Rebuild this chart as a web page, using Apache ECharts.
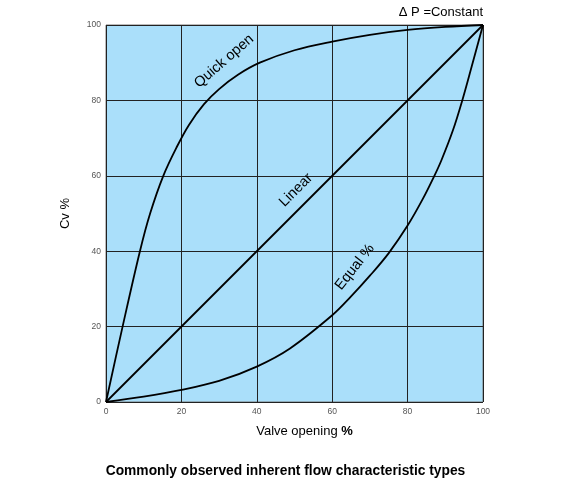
<!DOCTYPE html>
<html>
<head>
<meta charset="utf-8">
<script src="https://cdn.jsdelivr.net/npm/echarts@6/dist/echarts.min.js"></script>
<style>
  html, body { margin: 0; padding: 0; background: #fff; }
  #chart { width: 571px; height: 493px; }
</style>
</head>
<body>
<div id="chart"></div>
<script>
// valve opening % -> Cv %
const quickOpen = [
  [0, 0], [4.4, 20], [9, 40], [11.7, 50], [15.2, 60], [18.7, 67.5], [22, 73.5],
  [26, 79], [30, 83], [35, 86.8], [40.8, 90], [50, 93.3], [60, 95.6],
  [70, 97.4], [80, 98.7], [90, 99.5], [100, 100]
];
const linear = [[0, 0], [100, 100]];
const equalPct = [
  [0, 0], [10, 1.4], [20, 3.2], [30, 5.6], [40, 9.4], [48.8, 14.2], [60, 23],
  [65, 28], [70, 33.5], [75, 39.5], [80, 46.8], [84, 53.8], [87.1, 60], [89, 64.2],
  [92, 72], [94.5, 80], [97, 89], [100, 100]
];
const xTicks = [0, 20, 40, 60, 80, 100];
const yTicks = [0, 20, 40, 60, 80, 100];

// curve captions: [text, x, y, angle]
const captions = [
  ['Quick open', 31.3, 90.4, 41],
  ['Linear', 50.4, 56.2, 45],
  ['Equal %', 66, 35.8, 52]
];

const chart = echarts.init(document.getElementById('chart'));

const lineStyle = { color: '#000', width: 1.8 };

let option = {
  backgroundColor: '#fff',
  animation: false,
  title: {
    text: 'Commonly observed inherent flow characteristic types',
    left: 'center',
    top: 459,
    textStyle: { fontFamily: 'Arial, Liberation Sans', fontSize: 13.8, fontWeight: 'bold', color: '#000' }
  },
  grid: {
    left: 106, top: 25, right: 88, bottom: 91,
    show: true,
    backgroundColor: '#AADFFA',
    borderColor: '#777',
    borderWidth: 1
  },
  xAxis: {
    type: 'value',
    min: 0, max: 100, interval: 20,
    name: 'Valve opening {b|%}',
    nameLocation: 'middle',
    nameGap: 23,
    nameTextStyle: {
      fontFamily: 'Arial, Liberation Sans', fontSize: 13, color: '#000',
      padding: [0, 0, 0, 20],
      rich: { b: { fontFamily: 'Arial, Liberation Sans', fontSize: 13, fontWeight: 'bold', color: '#000' } }
    },
    axisLine: { show: false },
    axisTick: { show: false },
    axisLabel: {
      fontFamily: 'Arial, Liberation Sans', fontSize: 8.5, color: '#555', margin: 5,
      formatter: v => xTicks.includes(v) ? String(v) : ''
    },
    splitLine: { show: true, lineStyle: { color: '#222', width: 1 } }
  },
  yAxis: {
    type: 'value',
    min: 0, max: 100, interval: 20,
    name: 'Cv %',
    nameLocation: 'middle',
    nameGap: 34,
    nameTextStyle: { fontFamily: 'Arial, Liberation Sans', fontSize: 13, color: '#000' },
    axisLine: { show: false },
    axisTick: { show: false },
    axisLabel: {
      fontFamily: 'Arial, Liberation Sans', fontSize: 8.5, color: '#555', margin: 5,
      formatter: v => yTicks.includes(v) ? String(v) : ''
    },
    splitLine: { show: true, lineStyle: { color: '#222', width: 1 } }
  },
  series: [
    { name: 'Quick open', type: 'line', data: quickOpen, smooth: 0.35, showSymbol: false, lineStyle: lineStyle },
    { name: 'Linear', type: 'line', data: linear, showSymbol: false, lineStyle: lineStyle },
    { name: 'Equal %', type: 'line', data: equalPct, smooth: 0.35, showSymbol: false, lineStyle: lineStyle }
  ]
};

chart.setOption(option);

const graphics = captions.map(c => {
  const p = chart.convertToPixel({ gridIndex: 0 }, [c[1], c[2]]);
  return {
    type: 'text',
    x: p[0], y: p[1],
    rotation: c[3] * Math.PI / 180,
    style: {
      text: c[0],
      fontFamily: 'Arial, Liberation Sans',
      fontSize: 14.5,
      fill: '#000',
      align: 'center',
      verticalAlign: 'middle'
    }
  };
});
const corner = chart.convertToPixel({ gridIndex: 0 }, [100, 100]);
graphics.push({
  type: 'text',
  x: corner[0], y: corner[1] - 13,
  style: {
    text: '\u0394 P =Constant',
    fontFamily: 'Arial, Liberation Sans',
    fontSize: 13,
    fill: '#000',
    align: 'right',
    verticalAlign: 'middle'
  }
});
chart.setOption({ graphic: graphics });
</script>
</body>
</html>
